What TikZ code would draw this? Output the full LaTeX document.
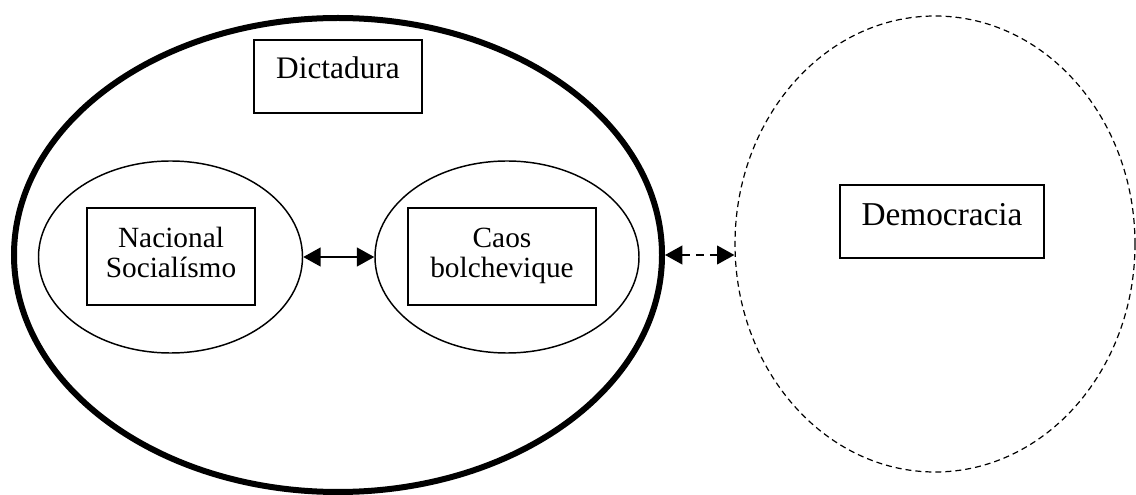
\documentclass[tikz,border=0pt]{standalone}
\usepackage{fontspec}
\setmainfont{Liberation Serif}
\usetikzlibrary{shapes.geometric,arrows.meta}

\tikzset{every picture/.style={line width=0.75pt}}
\tikzset{
  elipse/.style={draw, shape=ellipse, inner sep=0pt},
  caja/.style={draw, line width=1.1pt, inner sep=0pt, align=center},
  flecha/.style={line width=1.5pt, {Triangle[length=13pt,width=14pt]}-{Triangle[length=13pt,width=14pt]}},
}

\begin{document}
\begin{tikzpicture}[x=0.75pt,y=0.75pt,yscale=-1,xscale=1]
\useasboundingbox (0,0) rectangle (1136,495);

%Shape: Ellipse
\node [elipse, line width=4.5pt, minimum width=486pt, minimum height=355.5pt] (dictaduraEl) at (338,255) {};
%Shape: Ellipse
\node [elipse, line width=1.1pt, minimum width=198pt, minimum height=144pt] (nacionalEl) at (170.5,257) {};
%Shape: Ellipse
\node [elipse, line width=1.1pt, minimum width=198pt, minimum height=144pt] (caosEl) at (507,257) {};
%Shape: Ellipse
\node [elipse, line width=0.9pt, dash pattern=on 4.5pt off 3pt, minimum width=300pt, minimum height=342pt] (democraciaEl) at (935,244) {};

% Text Node
\node [caja, minimum width=126pt, minimum height=54.75pt, text depth=13pt, font=\fontsize{23.5}{27}\selectfont] (dictadura) at (338,76.5) {Dictadura};
% Text Node
\node [caja, minimum width=126pt, minimum height=72.75pt, text depth=6pt, font=\fontsize{22}{22.5}\selectfont] (nacional) at (171,256.5) {Nacional\\Socialísmo};
% Text Node
\node [caja, minimum width=141pt, minimum height=72.75pt, text depth=6pt, font=\fontsize{22}{22.5}\selectfont] (caos) at (502,256.5) {Caos\\bolchevique};
% Text Node
\node [caja, minimum width=153pt, minimum height=54.75pt, text depth=11pt, font=\fontsize{25}{28}\selectfont] (democracia) at (942,221.5) {Democracia};

%Straight Lines
\draw [flecha] (nacionalEl.east) -- (caosEl.west) ;
%Straight Lines
\draw [flecha, dash pattern=on 6pt off 4.5pt] (dictaduraEl.east) -- (dictaduraEl.east -| democraciaEl.west) ;

\end{tikzpicture}
\end{document}
